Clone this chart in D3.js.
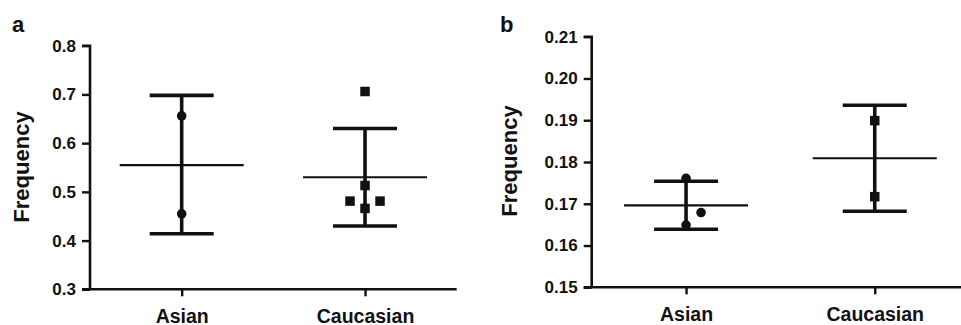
<!DOCTYPE html>
<html>
<head>
<meta charset="utf-8">
<script src="https://cdn.jsdelivr.net/npm/d3@7"></script>
<style>
  html, body { margin: 0; padding: 0; background: #fff; }
  svg { display: block; }
  text { font-family: "Liberation Sans", Arial, sans-serif; font-weight: bold; fill: #111; }
</style>
</head>
<body>
<svg id="chart" width="961" height="325"></svg>
<script>
// ---------- data ----------
const categories = ["Asian", "Caucasian"];

// Panel a
const aTicks = [0.3, 0.4, 0.5, 0.6, 0.7, 0.8];
const aAsianPoints = [0.656, 0.455];
const aCaucasianPoints = [0.706, 0.513, 0.481, 0.481, 0.466];
const aAsianDodge = [0, 0];
const aCaucasianDodge = [0, 0, -1, 1, 0];
const aMean = [0.555, 0.530];
const aUpper = [0.698, 0.630];
const aLower = [0.414, 0.430];

// Panel b
const bTicks = [0.15, 0.16, 0.17, 0.18, 0.19, 0.20, 0.21];
const bAsianPoints = [0.1761, 0.1649, 0.1679];
const bCaucasianPoints = [0.1899, 0.1717];
const bAsianDodge = [0, 0, 1];
const bCaucasianDodge = [0, 0];
const bMean = [0.1696, 0.1809];
const bUpper = [0.1754, 0.1936];
const bLower = [0.1639, 0.1682];

const svg = d3.select("#chart");
const INK = "#111";

function panel(opts) {
  const g = svg.append("g");
  const x = d3.scalePoint().domain(categories).range([opts.x0, opts.x1]).padding(0.5);
  const y = d3.scaleLinear().domain(opts.domain).range([opts.yBottom, opts.yTop]);

  // y axis
  const yAxis = d3.axisLeft(y).tickValues(opts.ticks).tickFormat(opts.fmt).tickSize(8).tickPadding(6);
  const gy = g.append("g").attr("transform", `translate(${opts.x0},0)`).call(yAxis);
  gy.select(".domain").attr("stroke", INK).attr("stroke-width", 2.6).attr("d", `M-8,${opts.yTop}H0V${opts.yBottom}`);
  gy.selectAll(".tick line").attr("stroke", INK).attr("stroke-width", 2.4);
  gy.selectAll(".tick text").attr("font-size", 17).attr("font-family", "Liberation Sans, Arial, sans-serif").attr("font-weight", "bold").attr("fill", INK);

  // x axis
  const xAxis = d3.axisBottom(x).tickSize(7).tickPadding(12.5);
  const gx = g.append("g").attr("transform", `translate(0,${opts.yBottom})`).call(xAxis);
  gx.select(".domain").attr("stroke", INK).attr("stroke-width", 2.6).attr("d", `M${opts.x0 - 8},0H${opts.xEnd}`);
  gx.selectAll(".tick line").attr("stroke", INK).attr("stroke-width", 2.4);
  gx.selectAll(".tick text").attr("font-size", 19.5).attr("font-family", "Liberation Sans, Arial, sans-serif").attr("font-weight", "bold").attr("fill", INK).attr("dy", "0.71em");

  // y label
  g.append("text")
    .attr("transform", `translate(${opts.labelX},${opts.labelY}) rotate(-90)`)
    .attr("text-anchor", "middle")
    .attr("font-size", 22)
    .text("Frequency");

  // panel letter
  g.append("text").attr("x", opts.letterX).attr("y", 32).attr("font-size", 22).text(opts.letter);

  // error bars
  const capHalf = 32, meanHalf = 62;
  categories.forEach((c, i) => {
    const cx = x(c);
    g.append("line").attr("x1", cx).attr("x2", cx).attr("y1", y(opts.upper[i])).attr("y2", y(opts.lower[i]))
      .attr("stroke", INK).attr("stroke-width", 3.6);
    [opts.upper[i], opts.lower[i]].forEach(v => {
      g.append("line").attr("x1", cx - capHalf).attr("x2", cx + capHalf).attr("y1", y(v)).attr("y2", y(v))
        .attr("stroke", INK).attr("stroke-width", 3.6);
    });
    g.append("line").attr("x1", cx - meanHalf).attr("x2", cx + meanHalf).attr("y1", y(opts.mean[i])).attr("y2", y(opts.mean[i]))
      .attr("stroke", INK).attr("stroke-width", 2.2);
  });

  // points
  const dodgePx = 15;
  g.selectAll("circle.pt").data(opts.pointsA.map((v, i) => ({v, d: opts.dodgeA[i]})))
    .join("circle").attr("class", "pt")
    .attr("cx", d => x(categories[0]) + d.d * dodgePx)
    .attr("cy", d => y(d.v))
    .attr("r", 4.8).attr("fill", INK);
  const s = 9.5;
  g.selectAll("rect.pt").data(opts.pointsB.map((v, i) => ({v, d: opts.dodgeB[i]})))
    .join("rect").attr("class", "pt")
    .attr("x", d => x(categories[1]) + d.d * dodgePx - s / 2)
    .attr("y", d => y(d.v) - s / 2)
    .attr("width", s).attr("height", s).attr("fill", INK);
}

panel({
  x0: 90, x1: 456.7, xEnd: 456.7,
  yBottom: 289.3, yTop: 45.7,
  domain: [0.3, 0.8], ticks: aTicks, fmt: d3.format(".1f"),
  labelX: 29, labelY: 167, letter: "a", letterX: 12,
  mean: aMean, upper: aUpper, lower: aLower,
  pointsA: aAsianPoints, dodgeA: aAsianDodge,
  pointsB: aCaucasianPoints, dodgeB: aCaucasianDodge
});

panel({
  x0: 591.7, x1: 969.1, xEnd: 961,
  yBottom: 287.3, yTop: 36.7,
  domain: [0.15, 0.21], ticks: bTicks, fmt: d3.format(".2f"),
  labelX: 517, labelY: 161, letter: "b", letterX: 500,
  mean: bMean, upper: bUpper, lower: bLower,
  pointsA: bAsianPoints, dodgeA: bAsianDodge,
  pointsB: bCaucasianPoints, dodgeB: bCaucasianDodge
});
</script>
</body>
</html>
